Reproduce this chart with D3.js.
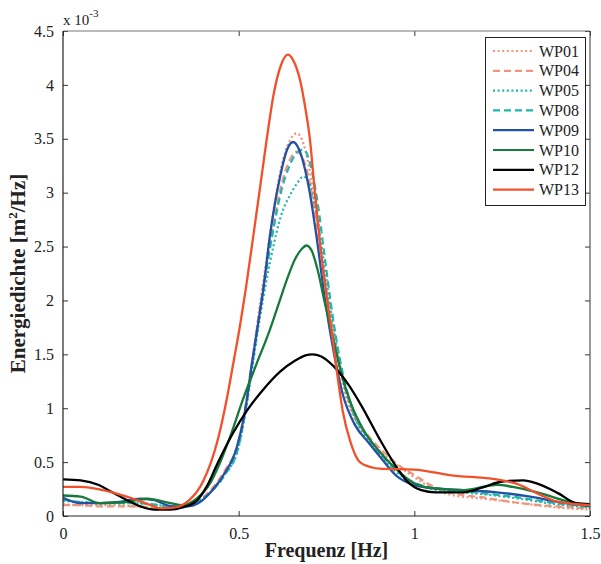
<!DOCTYPE html>
<html><head><meta charset="utf-8">
<script src="https://cdn.jsdelivr.net/npm/d3@7"></script>
<style>body{margin:0;background:#fff}</style>
</head><body>
<svg id="c" width="601" height="564"></svg>
<script>
const seriesNames = ["WP01","WP04","WP05","WP08","WP09","WP10","WP12","WP13"];
const seriesColors = ["#f0957c","#f0957c","#20b5ad","#20b5ad","#2450a6","#17793a","#000000","#f1502a"];
const seriesDash = ["dot","dash","dot","dash","solid","solid","solid","solid"];
const xTicks = [0, 0.5, 1, 1.5];
const yTicks = [0, 0.5, 1, 1.5, 2, 2.5, 3, 3.5, 4, 4.5];

// values in units of 1e-3 m^2/Hz, [frequency, value]
const wp01 = [[0,0.11],[0.05,0.10],[0.1,0.10],[0.15,0.10],[0.2,0.09],[0.25,0.08],[0.3,0.07],[0.34,0.08],[0.38,0.12],[0.42,0.22],[0.46,0.4],[0.5,0.68],[0.52,1.02],[0.54,1.48],[0.56,1.95],[0.58,2.4],[0.6,2.85],[0.62,3.22],[0.645,3.48],[0.665,3.55],[0.685,3.45],[0.705,3.15],[0.725,2.7],[0.745,2.2],[0.77,1.65],[0.8,1.17],[0.83,0.9],[0.87,0.72],[0.92,0.55],[0.96,0.45],[1.0,0.36],[1.05,0.26],[1.1,0.2],[1.2,0.16],[1.3,0.12],[1.4,0.08],[1.5,0.06]];
const wp04 = [[0,0.10],[0.05,0.10],[0.1,0.09],[0.15,0.09],[0.2,0.09],[0.25,0.08],[0.3,0.07],[0.34,0.08],[0.38,0.13],[0.42,0.24],[0.46,0.42],[0.5,0.7],[0.52,1.03],[0.54,1.47],[0.56,1.92],[0.58,2.33],[0.6,2.72],[0.62,3.05],[0.645,3.3],[0.665,3.38],[0.685,3.3],[0.705,3.05],[0.725,2.65],[0.745,2.2],[0.77,1.7],[0.8,1.22],[0.83,0.92],[0.87,0.74],[0.92,0.57],[0.96,0.46],[1.0,0.38],[1.05,0.28],[1.1,0.22],[1.2,0.17],[1.3,0.12],[1.4,0.09],[1.5,0.07]];
const wp05 = [[0,0.14],[0.05,0.13],[0.1,0.12],[0.15,0.12],[0.2,0.12],[0.25,0.11],[0.3,0.09],[0.34,0.09],[0.38,0.13],[0.42,0.22],[0.46,0.38],[0.5,0.64],[0.52,0.97],[0.54,1.4],[0.56,1.83],[0.58,2.2],[0.6,2.52],[0.62,2.78],[0.645,2.97],[0.665,3.08],[0.685,3.15],[0.705,3.05],[0.725,2.75],[0.745,2.3],[0.77,1.75],[0.8,1.22],[0.83,0.92],[0.87,0.7],[0.92,0.5],[0.96,0.38],[1.0,0.3],[1.05,0.25],[1.1,0.23],[1.2,0.2],[1.3,0.16],[1.4,0.11],[1.5,0.08]];
const wp08 = [[0,0.15],[0.05,0.13],[0.1,0.12],[0.15,0.12],[0.2,0.12],[0.25,0.11],[0.3,0.09],[0.34,0.09],[0.38,0.13],[0.42,0.22],[0.46,0.38],[0.5,0.65],[0.52,0.99],[0.54,1.43],[0.56,1.88],[0.58,2.3],[0.6,2.68],[0.62,3.0],[0.645,3.25],[0.665,3.37],[0.685,3.4],[0.705,3.25],[0.725,2.9],[0.745,2.4],[0.77,1.8],[0.8,1.27],[0.83,0.94],[0.87,0.72],[0.92,0.52],[0.96,0.39],[1.0,0.31],[1.05,0.26],[1.1,0.24],[1.2,0.21],[1.3,0.17],[1.4,0.12],[1.5,0.09]];
const wp09 = [[0,0.17],[0.05,0.12],[0.105,0.12],[0.16,0.13],[0.22,0.16],[0.256,0.15],[0.313,0.09],[0.353,0.09],[0.39,0.13],[0.425,0.24],[0.455,0.37],[0.495,0.64],[0.518,0.97],[0.538,1.42],[0.555,1.78],[0.57,2.1],[0.589,2.6],[0.618,3.15],[0.638,3.4],[0.655,3.47],[0.672,3.4],[0.69,3.2],[0.705,2.95],[0.723,2.56],[0.746,2.0],[0.769,1.55],[0.797,1.12],[0.83,0.85],[0.87,0.68],[0.9,0.56],[0.95,0.37],[0.996,0.29],[1.045,0.26],[1.14,0.24],[1.235,0.22],[1.33,0.18],[1.41,0.13],[1.5,0.09]];
const wp10 = [[0,0.19],[0.05,0.18],[0.105,0.12],[0.18,0.13],[0.24,0.16],[0.305,0.12],[0.34,0.10],[0.38,0.16],[0.418,0.3],[0.445,0.48],[0.475,0.73],[0.512,1.08],[0.552,1.42],[0.589,1.73],[0.615,1.98],[0.638,2.2],[0.66,2.38],[0.68,2.48],[0.693,2.51],[0.708,2.46],[0.725,2.28],[0.745,1.98],[0.77,1.63],[0.79,1.35],[0.82,1.04],[0.855,0.8],[0.9,0.6],[0.95,0.43],[0.996,0.31],[1.045,0.26],[1.14,0.24],[1.235,0.29],[1.28,0.27],[1.35,0.22],[1.42,0.15],[1.5,0.09]];
const wp12 = [[0,0.34],[0.05,0.33],[0.1,0.29],[0.14,0.22],[0.18,0.15],[0.22,0.09],[0.26,0.06],[0.305,0.06],[0.34,0.08],[0.38,0.14],[0.41,0.28],[0.44,0.49],[0.484,0.77],[0.524,0.98],[0.569,1.17],[0.618,1.34],[0.66,1.44],[0.69,1.49],[0.71,1.50],[0.735,1.48],[0.77,1.39],[0.81,1.23],[0.85,1.02],[0.9,0.72],[0.95,0.45],[0.98,0.32],[1.02,0.24],[1.06,0.22],[1.14,0.22],[1.19,0.26],[1.25,0.32],[1.31,0.33],[1.35,0.30],[1.41,0.21],[1.46,0.12],[1.5,0.11]];
const wp13 = [[0,0.27],[0.05,0.27],[0.1,0.25],[0.15,0.21],[0.2,0.16],[0.25,0.10],[0.28,0.07],[0.32,0.08],[0.36,0.15],[0.38,0.22],[0.4,0.33],[0.44,0.70],[0.467,1.1],[0.486,1.44],[0.504,1.77],[0.52,2.1],[0.54,2.56],[0.561,3.05],[0.58,3.5],[0.6,3.92],[0.62,4.18],[0.64,4.28],[0.655,4.23],[0.675,4.04],[0.689,3.8],[0.703,3.49],[0.717,3.0],[0.731,2.55],[0.746,2.15],[0.765,1.7],[0.78,1.33],[0.797,0.96],[0.817,0.70],[0.845,0.50],[0.88,0.45],[0.9,0.44],[1.0,0.43],[1.1,0.38],[1.25,0.33],[1.29,0.30],[1.35,0.21],[1.41,0.13],[1.5,0.10]];
const seriesData = [wp01, wp04, wp05, wp08, wp09, wp10, wp12, wp13];

const svg = d3.select("#c");
const L = 63, R = 590, T = 31, B = 516;
const x = d3.scaleLinear().domain([0, 1.5]).range([L, R]);
const y = d3.scaleLinear().domain([0, 4.5]).range([B, T]);
const font = "'Liberation Serif', 'DejaVu Serif', serif";

svg.append("rect").attr("x",0).attr("y",0).attr("width",601).attr("height",564).attr("fill","#fff");
svg.append("clipPath").attr("id","clip").append("rect").attr("x",L).attr("y",T).attr("width",R-L).attr("height",B-T);

const line = d3.line().x(d => x(d[0])).y(d => y(d[1])).curve(d3.curveMonotoneX);
const dashFor = s => s === "dot" ? "2,2.6" : s === "dash" ? "7,4" : null;

const g = svg.append("g").attr("clip-path","url(#clip)");
seriesData.forEach((d, i) => {
  g.append("path").attr("d", line(d)).attr("fill","none")
    .attr("stroke", seriesColors[i])
    .attr("stroke-width", seriesDash[i] === "solid" ? 2.3 : 2.2)
    .attr("stroke-dasharray", dashFor(seriesDash[i]));
});

const axB = svg.append("g").attr("transform",`translate(0,${B})`)
  .call(d3.axisBottom(x).tickValues(xTicks).tickSize(-5).tickPadding(9).tickFormat(d3.format("~g")));
const axT = svg.append("g").attr("transform",`translate(0,${T})`)
  .call(d3.axisTop(x).tickValues(xTicks).tickSize(-5).tickFormat(""));
const axL = svg.append("g").attr("transform",`translate(${L},0)`)
  .call(d3.axisLeft(y).tickValues(yTicks).tickSize(-5).tickPadding(9).tickFormat(d3.format("~g")));
const axR = svg.append("g").attr("transform",`translate(${R},0)`)
  .call(d3.axisRight(y).tickValues(yTicks).tickSize(-5).tickFormat(""));
[axB, axT, axL, axR].forEach(a => {
  a.select(".domain").remove();
  a.selectAll("line").attr("stroke","#333");
  a.selectAll("text").attr("font-family",font).attr("font-size",16).attr("fill","#222");
});
axB.selectAll("text").attr("dy","0.9em");

svg.append("line").attr("x1",L).attr("x2",R).attr("y1",T).attr("y2",T).attr("stroke","#777").attr("stroke-width",1.2);
svg.append("line").attr("x1",R).attr("x2",R).attr("y1",T).attr("y2",B).attr("stroke","#555").attr("stroke-width",1.2);
svg.append("line").attr("x1",L).attr("x2",R).attr("y1",B).attr("y2",B).attr("stroke","#222").attr("stroke-width",1.2);
svg.append("line").attr("x1",L).attr("x2",L).attr("y1",T).attr("y2",B).attr("stroke","#222").attr("stroke-width",1.2);

const ex = svg.append("text").attr("x",63).attr("y",25).attr("font-family",font).attr("font-size",15).attr("fill","#222");
ex.append("tspan").text("x 10");
ex.append("tspan").attr("dy",-8).attr("font-size",11).text("-3");

svg.append("text").attr("x",(L+R)/2).attr("y",557).attr("text-anchor","middle")
  .attr("font-family",font).attr("font-size",20).attr("font-weight","bold").attr("fill","#222")
  .text("Frequenz [Hz]");
const yl = svg.append("text").attr("transform",`translate(25,${(T+B)/2}) rotate(-90)`).attr("text-anchor","middle")
  .attr("font-family",font).attr("font-size",21).attr("font-weight","bold").attr("fill","#222");
yl.append("tspan").text("Energiedichte [m");
yl.append("tspan").attr("dy",-8).attr("font-size",13).text("2");
yl.append("tspan").attr("dy",8).text("/Hz]");

const lg = svg.append("g");
lg.append("rect").attr("x",485.5).attr("y",37.5).attr("width",100).attr("height",168)
  .attr("fill","#fff").attr("stroke","#222").attr("stroke-width",1);
seriesNames.forEach((n, i) => {
  const yy = 51 + i * 19.8;
  lg.append("line").attr("x1",493).attr("x2",534).attr("y1",yy).attr("y2",yy)
    .attr("stroke",seriesColors[i]).attr("stroke-width",2.2)
    .attr("stroke-dasharray", dashFor(seriesDash[i]));
  lg.append("text").attr("x",539).attr("y",yy).attr("dy","0.35em")
    .attr("font-family",font).attr("font-size",16).attr("fill","#222").text(n);
});
</script>
</body></html>
